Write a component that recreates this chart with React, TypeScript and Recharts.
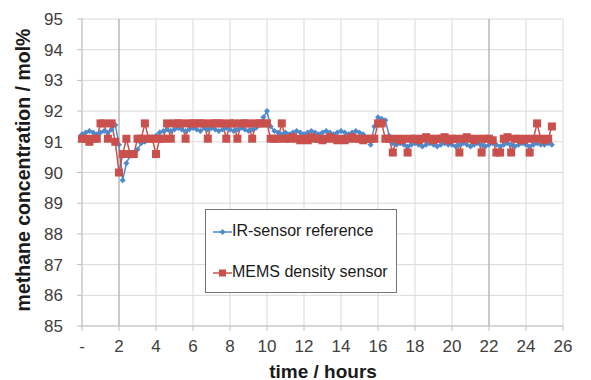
import React from 'react';
import { LineChart, Line, XAxis, YAxis, CartesianGrid, ReferenceLine } from 'recharts';

// time axis, hours (one reading every 12 min)
const hours = [
  0, 0.2, 0.4, 0.6, 0.8, 1, 1.2, 1.4, 1.6, 1.8,
  2, 2.2, 2.4, 2.6, 2.8, 3, 3.2, 3.4, 3.6, 3.8,
  4, 4.2, 4.4, 4.6, 4.8, 5, 5.2, 5.4, 5.6, 5.8,
  6, 6.2, 6.4, 6.6, 6.8, 7, 7.2, 7.4, 7.6, 7.8,
  8, 8.2, 8.4, 8.6, 8.8, 9, 9.2, 9.4, 9.6, 9.8,
  10, 10.2, 10.4, 10.6, 10.8, 11, 11.2, 11.4, 11.6, 11.8,
  12, 12.2, 12.4, 12.6, 12.8, 13, 13.2, 13.4, 13.6, 13.8,
  14, 14.2, 14.4, 14.6, 14.8, 15, 15.2, 15.4, 15.6, 15.8,
  16, 16.2, 16.4, 16.6, 16.8, 17, 17.2, 17.4, 17.6, 17.8,
  18, 18.2, 18.4, 18.6, 18.8, 19, 19.2, 19.4, 19.6, 19.8,
  20, 20.2, 20.4, 20.6, 20.8, 21, 21.2, 21.4, 21.6, 21.8,
  22, 22.2, 22.4, 22.6, 22.8, 23, 23.2, 23.4, 23.6, 23.8,
  24, 24.2, 24.4, 24.6, 24.8, 25, 25.2, 25.4,
];

// IR-sensor reference, mol%
const irSensor = [
  91.25, 91.3, 91.35, 91.3, 91.25, 91.3, 91.35, 91.3, 91.4, 91.55,
  90.9, 89.75, 90.3, 90.55, 90.6, 90.75, 90.95, 91.0, 91.1, 91.15,
  91.2, 91.3, 91.35, 91.4, 91.35, 91.4, 91.45, 91.4, 91.35, 91.4,
  91.45, 91.4, 91.35, 91.45, 91.4, 91.45, 91.4, 91.35, 91.4, 91.45,
  91.4, 91.35, 91.4, 91.45, 91.4, 91.35, 91.4, 91.45, 91.55, 91.8,
  92.0, 91.5, 91.35, 91.3, 91.25, 91.3, 91.25, 91.3, 91.35, 91.3,
  91.25, 91.3, 91.35, 91.3, 91.25, 91.3, 91.35, 91.3, 91.25, 91.3,
  91.35, 91.3, 91.25, 91.3, 91.35, 91.3, 91.25, 91.1, 90.9, 91.5,
  91.8, 91.75, 91.7, 91.2, 90.95, 90.9, 90.95, 90.9, 90.85, 90.9,
  90.95, 90.9, 90.85, 90.9, 90.95, 90.9, 90.85, 90.9, 90.95, 90.9,
  90.9, 90.85, 90.9, 90.95, 90.9, 90.85, 90.9, 90.95, 90.9, 90.85,
  90.9, 90.95, 90.9, 90.85, 90.9, 90.95, 90.9, 90.85, 90.9, 90.95,
  90.9, 90.85, 90.9, 90.95, 90.9, 90.9, 90.95, 90.9,
];

// MEMS density sensor, mol%
const memsSensor = [
  91.1, 91.1, 91.0, 91.1, 91.1, 91.6, 91.6, 91.1, 91.6, 91.0,
  90.0, 90.6, 91.1, 90.6, 90.6, 91.1, 91.1, 91.6, 91.1, 91.1,
  90.6, 91.1, 91.1, 91.6, 91.1, 91.6, 91.6, 91.6, 91.1, 91.6,
  91.6, 91.6, 91.6, 91.6, 91.1, 91.6, 91.6, 91.6, 91.6, 91.1,
  91.6, 91.6, 91.1, 91.6, 91.6, 91.6, 91.1, 91.6, 91.6, 91.6,
  91.6, 91.1, 91.1, 91.1, 91.6, 91.1, 91.1, 91.15, 91.1, 91.05,
  91.1, 91.05, 91.15, 91.1, 91.1, 91.05, 91.1, 91.15, 91.1, 91.05,
  91.1, 91.05, 91.1, 91.15, 91.1, 91.1, 91.05, 91.1, 91.1, 91.1,
  91.6, 91.6, 91.1, 91.1, 90.65, 91.1, 91.05, 91.1, 90.65, 91.1,
  91.1, 91.05, 91.1, 91.15, 91.1, 91.05, 91.1, 91.1, 91.15, 91.05,
  91.1, 91.1, 90.65, 91.1, 91.15, 91.1, 91.05, 91.1, 90.65, 91.1,
  91.1, 91.05, 90.65, 90.65, 91.1, 91.15, 90.65, 91.1, 91.1, 91.05,
  91.1, 90.65, 91.1, 91.6, 91.1, 91.05, 91.1, 91.5,
];

const xTicks = [0, 2, 4, 6, 8, 10, 12, 14, 16, 18, 20, 22, 24, 26];
const yTicks = [85, 86, 87, 88, 89, 90, 91, 92, 93, 94, 95];

const BLUE = '#4F8ACB';
const RED = '#C9504C';
const FONT = '"Liberation Sans", Arial, sans-serif';

const data = hours.map((h, i) => ({ h, ir: irSensor[i], mems: memsSensor[i] }));

const Diamond = (props: any) => {
  const { cx, cy, index } = props;
  if (cx == null || cy == null) return <g key={`d${index}`} />;
  return (
    <path
      key={`d${index}`}
      d={`M${cx},${cy - 3}L${cx + 3},${cy}L${cx},${cy + 3}L${cx - 3},${cy}Z`}
      fill={BLUE}
    />
  );
};

const Square = (props: any) => {
  const { cx, cy, index } = props;
  if (cx == null || cy == null) return <g key={`s${index}`} />;
  return <rect key={`s${index}`} x={cx - 4} y={cy - 4} width={8} height={8} fill={RED} />;
};

const LegendBox = () => (
  <div
    style={{
      position: 'absolute',
      left: 205,
      top: 209,
      width: 190,
      height: 82,
      border: '1px solid #767676',
      background: '#fff',
      fontFamily: FONT,
      fontSize: 16,
      color: '#1a1a1a',
    }}
  >
    <svg width={24} height={82} style={{ position: 'absolute', left: 6, top: 0 }}>
      <line x1={1} x2={20} y1={22} y2={22} stroke={BLUE} strokeWidth={1.5} />
      <path d="M10.5,19L13.5,22L10.5,25L7.5,22Z" fill={BLUE} />
      <line x1={1} x2={20} y1={63} y2={63} stroke={RED} strokeWidth={1.5} />
      <rect x={7} y={59.5} width={7} height={7} fill={RED} />
    </svg>
    <div style={{ position: 'absolute', left: 26, top: 12, whiteSpace: 'nowrap' }}>IR-sensor reference</div>
    <div style={{ position: 'absolute', left: 26, top: 53, whiteSpace: 'nowrap' }}>MEMS density sensor</div>
  </div>
);

export default function App() {
  return (
    <div style={{ position: 'absolute', left: 0, top: 0, width: 591, height: 380, background: '#fff' }}>
      <LineChart width={591} height={380} data={data} margin={{ top: 19, right: 28, bottom: 24, left: 0 }}>
        <CartesianGrid stroke="#d9d9d9" />
        <XAxis
          dataKey="h"
          type="number"
          domain={[0, 26]}
          ticks={xTicks}
          interval={0}
          height={30}
          tickFormatter={(v: number) => (v === 0 ? '-' : String(v))}
          tick={{ fontSize: 17, fill: '#404040', fontFamily: FONT }}
          tickSize={5}
          tickMargin={9}
          stroke="#bfbfbf"
          label={() => (
            <text x={323} y={371} textAnchor="middle" dominantBaseline="central"
              style={{ fontSize: 19, fontWeight: 'bold', fontFamily: FONT, fill: '#1a1a1a' }}>
              time / hours
            </text>
          )}
        />
        <YAxis
          type="number"
          domain={[85, 95]}
          ticks={yTicks}
          interval={0}
          width={82}
          tick={{ fontSize: 17, fill: '#404040', fontFamily: FONT }}
          tickSize={5}
          tickMargin={14}
          stroke="#bfbfbf"
          label={() => (
            <text x={23} y={170} textAnchor="middle" dominantBaseline="central" transform="rotate(-90 23 170)"
              style={{ fontSize: 19.5, fontWeight: 'bold', fontFamily: FONT, fill: '#1a1a1a' }}>
              methane concentration / mol%
            </text>
          )}
        />
        <ReferenceLine x={2} stroke="#a6a6a6" />
        <ReferenceLine x={22} stroke="#a6a6a6" />
        <Line dataKey="ir" stroke={BLUE} strokeWidth={1.5} dot={Diamond} isAnimationActive={false} />
        <Line dataKey="mems" stroke={RED} strokeWidth={1.5} dot={Square} isAnimationActive={false} />
      </LineChart>
      <LegendBox />
    </div>
  );
}
